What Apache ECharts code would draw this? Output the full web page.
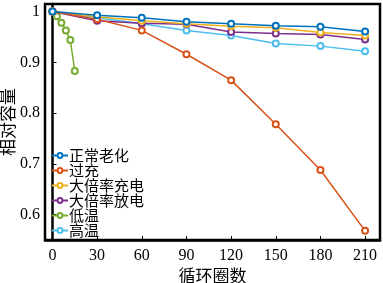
<!DOCTYPE html>
<html lang="zh">

<head>
	<meta charset="UTF-8">
	<script src="https://cdn.jsdelivr.net/npm/echarts@6/dist/echarts.min.js"></script>
	<title>capacity</title>
	<style>
		body { margin: 0; background: #fff; }
		#chart { width: 383px; height: 283px; }
	</style>
</head>

<body>
	<div id="chart"></div>
	<script>
		// 循环圈数
		var cycles = [0, 30, 60, 90, 120, 150, 180, 210]
		var lowTempCycles = [0, 3, 6, 9, 12, 15]
		var xTicks = [0, 30, 60, 90, 120, 150, 180, 210]
		var yTicks = [0.6, 0.7, 0.8, 0.9, 1]

		// 相对容量
		var normal = [1.0, 0.993, 0.988, 0.980, 0.976, 0.972, 0.970, 0.961]
		var overcharge = [1.0, 0.985, 0.963, 0.916, 0.865, 0.778, 0.688, 0.568]
		var highRateCharge = [1.0, 0.990, 0.982, 0.976, 0.971, 0.968, 0.959, 0.953]
		var highRateDischarge = [1.0, 0.982, 0.977, 0.975, 0.960, 0.957, 0.955, 0.945]
		var lowTemp = [1.0, 0.991, 0.978, 0.963, 0.944, 0.883]
		var highTemp = [1.0, 0.988, 0.976, 0.963, 0.953, 0.937, 0.932, 0.922]

		var names = ['正常老化', '过充', '大倍率充电', '大倍率放电', '低温', '高温']
		var colors = ['#0072BD', '#D95319', '#EDB120', '#7E2F8E', '#77AC30', '#4DBEEE']
		var values = [normal, overcharge, highRateCharge, highRateDischarge, lowTemp, highTemp]

		var chart = echarts.init(document.getElementById('chart'))

		var series = names.map(function (n, i) {
			var xs = n === '低温' ? lowTempCycles : cycles
			return {
				name: n,
				type: 'line',
				data: values[i].map(function (v, j) { return [xs[j], v] }),
				symbol: 'emptyCircle',
				symbolSize: 6,
				lineStyle: { width: 1.5, color: colors[i] },
				itemStyle: { color: colors[i], borderWidth: 1.5 },
				z: 10 - i
			}
		})

		var font = 'Liberation Serif'

		chart.setOption({
			animation: false,
			grid: {
				left: 45, right: 3, top: 4, bottom: 43,
				containLabel: false,
				outerBoundsMode: 'none',
				show: true, borderColor: '#000', borderWidth: 2.5
			},
			legend: {
				orient: 'vertical',
				left: 46, top: 143,
				itemGap: 0,
				itemWidth: 16, itemHeight: 6,
				data: names,
				textStyle: { fontSize: 15, fontFamily: 'Noto Sans CJK SC', color: '#000', lineHeight: 15, padding: [0, 0, 0, -4] }
			},
			xAxis: {
				type: 'value',
				min: -5, max: 220,
				name: '循环圈数',
				nameLocation: 'middle',
				nameGap: 27,
				nameMoveOverlap: false,
				nameTextStyle: { fontSize: 17, fontFamily: 'Noto Sans CJK SC', color: '#000' },
				axisLine: { lineStyle: { color: '#000', width: 2.5 } },
				axisTick: { inside: true, length: 4, customValues: xTicks, lineStyle: { color: '#000' } },
				axisLabel: { customValues: xTicks, fontSize: 16, fontFamily: font, color: '#000', margin: 8 },
				splitLine: { show: false }
			},
			yAxis: {
				type: 'value',
				min: 0.55, max: 1.015,
				name: '相对容量',
				nameLocation: 'middle',
				nameGap: 29,
				nameMoveOverlap: false,
				nameRotate: 90,
				nameTextStyle: { fontSize: 17, fontFamily: 'Noto Sans CJK SC', color: '#000' },
				axisLine: { lineStyle: { color: '#000', width: 2.5 } },
				axisTick: { inside: true, length: 4, customValues: yTicks, lineStyle: { color: '#000' } },
				axisLabel: {
					customValues: yTicks, fontSize: 16, fontFamily: font, color: '#000', margin: 5,
					formatter: function (v) { return v === 1 ? '1' : v.toFixed(1) }
				},
				splitLine: { show: false }
			},
			series: series
		})
	</script>
</body>

</html>
